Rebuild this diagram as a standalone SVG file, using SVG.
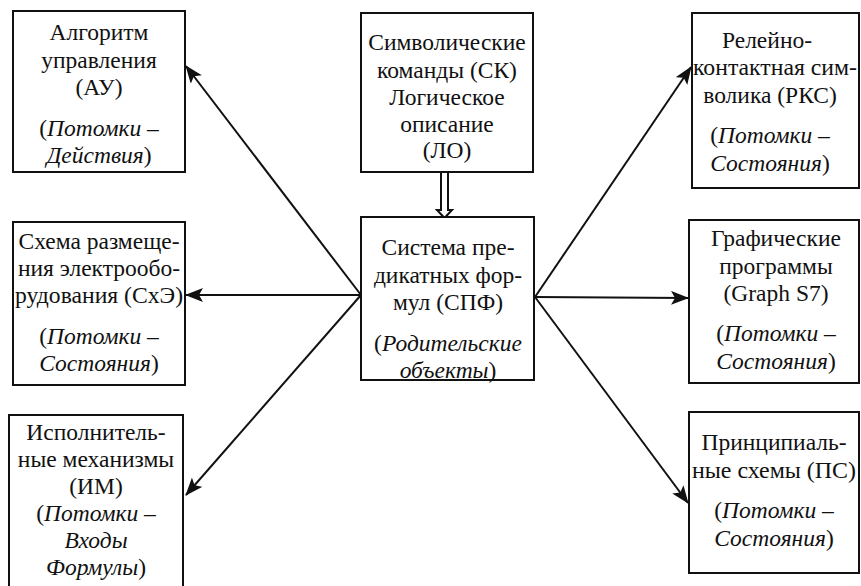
<svg xmlns="http://www.w3.org/2000/svg" width="861" height="586" viewBox="0 0 861 586">
<style>
.box{fill:#fff;stroke:#111;stroke-width:2}
.t{font-family:"Liberation Serif","Times New Roman",serif;font-size:23.5px;fill:#111;text-anchor:middle}
.i{font-style:italic}
.c{stroke:#111;stroke-width:2;fill:none}
</style>
<defs>
<marker id="ah" markerWidth="18" markerHeight="14" refX="17" refY="7" orient="auto" markerUnits="userSpaceOnUse">
<path d="M0,0 L18,7 L0,14 L4,7 Z" fill="#111"/>
</marker>
</defs>
<rect width="861" height="586" fill="#fff"/>
<g id="connectors">
<line class="c" x1="361" y1="295" x2="186" y2="66" marker-end="url(#ah)"/>
<line class="c" x1="361" y1="295" x2="186" y2="295" marker-end="url(#ah)"/>
<line class="c" x1="361" y1="295" x2="186" y2="495" marker-end="url(#ah)"/>
<line class="c" x1="535" y1="297" x2="691" y2="67" marker-end="url(#ah)"/>
<line class="c" x1="535" y1="297" x2="688" y2="298" marker-end="url(#ah)"/>
<line class="c" x1="535" y1="297" x2="688" y2="503" marker-end="url(#ah)"/>
<path d="M441,172 L441,210 L437,210 L444.5,218 L452,210 L448,210 L448,172" fill="#fff" stroke="#111" stroke-width="2"/>
</g>
<g id="au">
<rect class="box" x="13" y="11" width="172" height="161"/>
<text class="t" x="99" y="40">Алгоритм</text>
<text class="t" x="99" y="68">управления</text>
<text class="t" x="99" y="95">(АУ)</text>
<text class="t" x="99" y="136">(<tspan class="i">Потомки –</tspan></text>
<text class="t" x="99" y="163"><tspan class="i">Действия</tspan>)</text>
</g>
<g id="sk">
<rect class="box" x="361" y="13" width="172" height="159"/>
<text class="t" x="447" y="50">Символические</text>
<text class="t" x="447" y="78">команды (СК)</text>
<text class="t" x="447" y="105">Логическое</text>
<text class="t" x="447" y="132">описание</text>
<text class="t" x="447" y="158">(ЛО)</text>
</g>
<g id="spf">
<rect class="box" x="361" y="217" width="173" height="163"/>
<text class="t" x="448" y="255">Система пре-</text>
<text class="t" x="448" y="283">дикатных фор-</text>
<text class="t" x="448" y="310">мул (СПФ)</text>
<text class="t" x="448" y="351">(<tspan class="i">Родительские</tspan></text>
<text class="t" x="448" y="378"><tspan class="i">объекты</tspan>)</text>
</g>
<g id="sxe">
<rect class="box" x="13" y="222" width="172" height="163"/>
<text class="t" x="99" y="249">Схема размеще-</text>
<text class="t" x="99" y="276">ния электрообо-</text>
<text class="t" x="99" y="303" textLength="168" lengthAdjust="spacingAndGlyphs">рудования (СхЭ)</text>
<text class="t" x="99" y="344">(<tspan class="i">Потомки –</tspan></text>
<text class="t" x="99" y="371"><tspan class="i">Состояния</tspan>)</text>
</g>
<g id="im">
<rect class="box" x="9" y="415" width="174" height="180"/>
<text class="t" x="96" y="440">Исполнитель-</text>
<text class="t" x="96" y="467">ные механизмы</text>
<text class="t" x="96" y="494">(ИМ)</text>
<text class="t" x="96" y="521">(<tspan class="i">Потомки –</tspan></text>
<text class="t" x="96" y="548"><tspan class="i">Входы</tspan></text>
<text class="t" x="96" y="575"><tspan class="i">Формулы</tspan>)</text>
</g>
<g id="rks">
<rect class="box" x="692" y="13" width="167" height="175"/>
<text class="t" x="767" y="48">Релейно-</text>
<text class="t" x="775" y="75" textLength="164" lengthAdjust="spacingAndGlyphs">контактная сим-</text>
<text class="t" x="770" y="103">волика (РКС)</text>
<text class="t" x="770" y="143">(<tspan class="i">Потомки –</tspan></text>
<text class="t" x="770" y="171"><tspan class="i">Состояния</tspan>)</text>
</g>
<g id="graph">
<rect class="box" x="689" y="220" width="170" height="163"/>
<text class="t" x="776" y="246">Графические</text>
<text class="t" x="776" y="274">программы</text>
<text class="t" x="776" y="301">(Graph S7)</text>
<text class="t" x="776" y="341">(<tspan class="i">Потомки –</tspan></text>
<text class="t" x="776" y="369"><tspan class="i">Состояния</tspan>)</text>
</g>
<g id="ps">
<rect class="box" x="689" y="412" width="170" height="161"/>
<text class="t" x="774" y="450">Принципиаль-</text>
<text class="t" x="774" y="478" textLength="164" lengthAdjust="spacingAndGlyphs">ные схемы (ПС)</text>
<text class="t" x="774" y="518">(<tspan class="i">Потомки –</tspan></text>
<text class="t" x="774" y="546"><tspan class="i">Состояния</tspan>)</text>
</g>
</svg>
